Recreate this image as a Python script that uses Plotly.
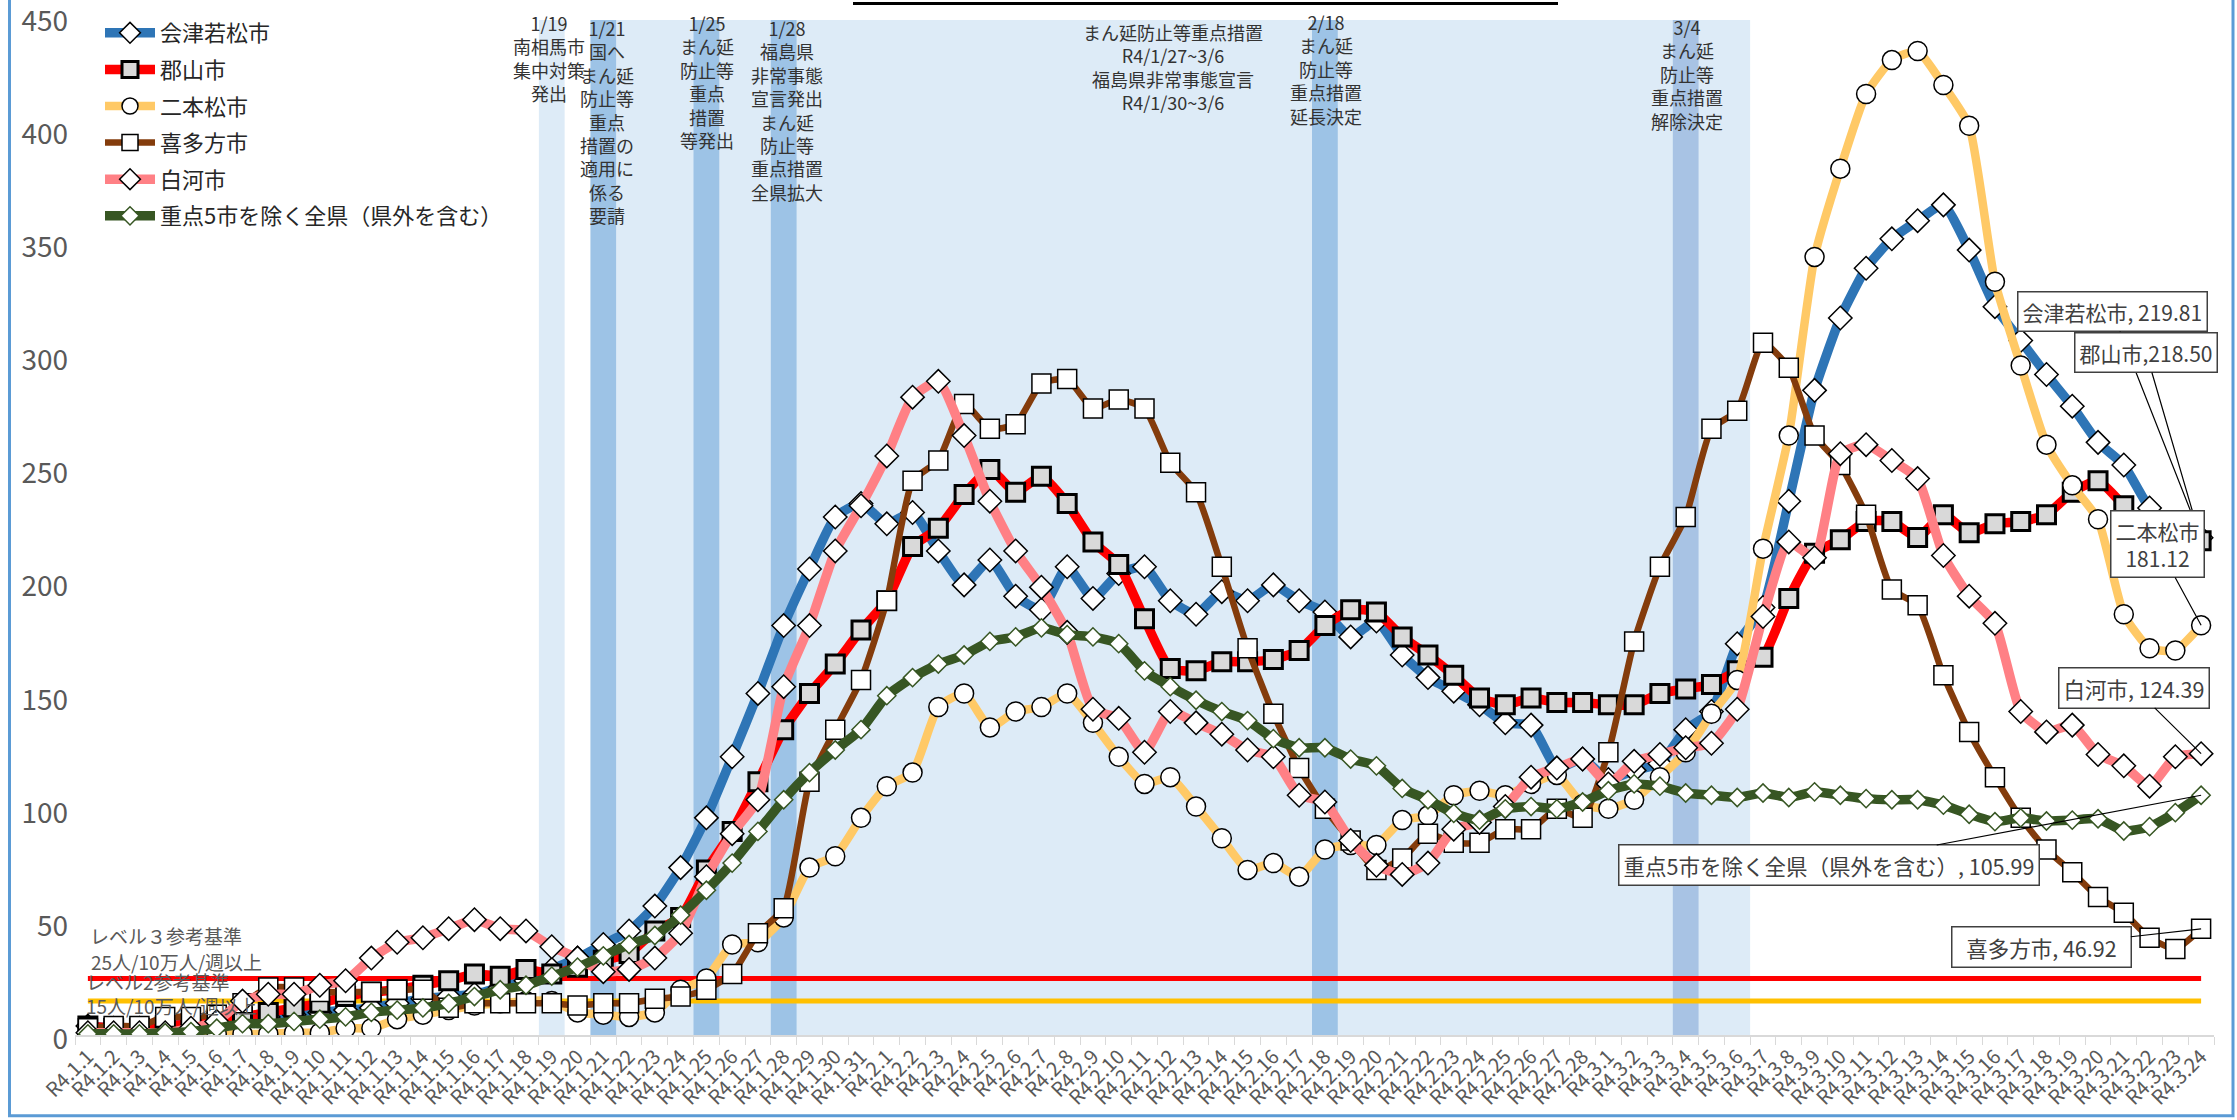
import plotly.graph_objects as go

# ---------------- data ----------------
months = [(1, 31), (2, 28), (3, 24)]
dates = [f"R4.{m}.{d}" for m, n in months for d in range(1, n + 1)]

aizu = [4, 3, 3, 4, 5, 6, 7, 8, 9, 10, 11, 12, 14, 16, 17, 18, 21, 24, 29, 34,
        40, 46, 57, 74, 96, 123, 151, 181, 206, 229, 235,
        226, 231, 214, 199, 210, 194, 188, 207, 193, 204, 207, 192, 186, 196, 192, 199, 192, 187,
        176, 183, 168, 158, 152, 146, 138, 137, 118, 122,
        113, 117, 120, 135, 143, 173, 189, 236, 285, 317, 339, 352, 360, 367, 347, 322, 307, 292,
        278, 262, 252, 233, 224, 219.81]

koriyama = [4, 3, 3, 4, 5, 7, 8, 10, 12, 14, 17, 19, 20, 22, 24, 27, 26, 29, 27, 30,
            33, 36, 46, 52, 73, 90, 112, 135, 151, 164, 179,
            192, 216, 224, 239, 250, 240, 247, 235, 218, 208, 184, 162, 161, 165, 165, 166, 170, 181,
            188, 187, 176, 168, 159, 149, 146, 149, 147, 147,
            146, 146, 151, 153, 155, 161, 167, 193, 213, 219, 227, 227, 220, 230, 222, 226, 227, 230,
            240, 245, 234, 221, 216, 218.50]

nihonmatsu = [1, 1, 1, 0.5, 0.5, 0.5, 0.5, 0.5, 1, 1, 3, 3, 7, 9, 11, 13, 14, 15, 15, 10,
              9, 8, 10, 20, 25, 40, 41, 52, 74, 79, 96,
              110, 116, 145, 151, 136, 143, 145, 151, 138, 123, 111, 114, 101, 87, 73, 76, 70, 82,
              84, 84, 95, 97, 106, 108, 106, 111, 115, 102,
              100, 104, 114, 125, 142, 157, 215, 265, 344, 383, 416, 431, 435, 420, 402, 333, 296, 261,
              243, 228, 186, 171, 170, 181.12]

kitakata = [3, 4, 4, 8, 8, 9, 14, 21, 21, 19, 19, 19, 20, 20, 12, 14, 14, 14, 14, 13,
            14, 14, 16, 17, 20, 27, 45, 56, 112, 135, 157,
            192, 245, 254, 279, 268, 270, 288, 290, 277, 281, 277, 253, 240, 207, 171, 142, 118, 100,
            86, 73, 78, 89, 85, 85, 91, 91, 100, 96,
            125, 174, 207, 229, 268, 276, 306, 295, 265, 252, 230, 197, 190, 159, 134, 114, 96, 82,
            72, 61, 54, 43, 38, 46.92]

shirakawa = [1, 1, 1, 1, 3, 6, 15, 18, 18, 22, 24, 34, 41, 43, 47, 51, 47, 46, 39, 34,
             28, 29, 34, 45, 70, 89, 104, 154, 181, 214, 234,
             256, 282, 289, 265, 236, 214, 198, 178, 144, 140, 125, 143, 138, 133, 126, 123, 106, 103,
             86, 75, 71, 76, 91, 94, 101, 114, 118, 122,
             111, 121, 124, 127, 129, 144, 185, 218, 211, 257, 261, 254, 246, 212, 194, 182, 143, 134,
             137, 124, 119, 110, 123, 124.39]

zenken = [0.5, 0.5, 0.5, 1, 1.5, 3, 5, 5, 6, 7, 8, 10, 11, 12, 14, 17, 20, 22, 26, 30,
          35, 40, 44, 53, 64, 76, 90, 104, 116, 126, 135,
          150, 158, 164, 168, 174, 176, 180, 177, 176, 173, 161, 154, 148, 143, 139, 131, 127, 127,
          122, 119, 109, 104, 98, 95, 100, 101, 100, 103,
          108, 111, 110, 107, 106, 105, 107, 105, 107.5, 106, 104.5, 104, 104, 101.6, 97.6, 94.3, 96,
          94.6, 95, 95.6, 90.2, 92.1, 98.3, 105.99]

series_names = ["会津若松市", "郡山市", "二本松市", "喜多方市", "白河市", "重点5市を除く全県（県外を含む）"]
level3_value = 25
level2_value = 15
y_ticks = [0, 50, 100, 150, 200, 250, 300, 350, 400, 450]

# event bands (dates)
light_single = ["R4.1.19"]
light_range = ("R4.1.22", "R4.3.6")
dark_events = ["R4.1.21", "R4.1.25", "R4.1.28", "R4.2.18"]
dark2_events = ["R4.3.4"]

event_notes = [
    ("R4.1.19", "1/19<br>南相馬市<br>集中対策<br>発出"),
    ("R4.1.21", "1/21<br>国へ<br>まん延<br>防止等<br>重点<br>措置の<br>適用に<br>係る<br>要請"),
    ("R4.1.25", "1/25<br>まん延<br>防止等<br>重点<br>措置<br>等発出"),
    ("R4.1.28", "1/28<br>福島県<br>非常事態<br>宣言発出<br>まん延<br>防止等<br>重点措置<br>全県拡大"),
    ("R4.2.12", "まん延防止等重点措置<br>R4/1/27~3/6<br>福島県非常事態宣言<br>R4/1/30~3/6"),
    ("R4.2.18", "2/18<br>まん延<br>防止等<br>重点措置<br>延長決定"),
    ("R4.3.4", "3/4<br>まん延<br>防止等<br>重点措置<br>解除決定"),
]

# ---------------- layout constants ----------------
FONT = "Noto Sans CJK JP"
W, H = 2237, 1120
ML, MR, MT, MB = 75, 23, 14, 85
PW = W - ML - MR
PH = H - MT - MB


def px_to_paper_x(px):
    return (px - ML) / PW


def px_to_paper_y(py):
    return (H - MB - py) / PH


idx = {d: i for i, d in enumerate(dates)}

fig = go.Figure()

# bands
shapes = []
LIGHT = "#DDEBF7"
DARK = "#9DC3E6"
DARK2 = "#A8C3E4"
BAND_TOP = 0.996
for d in light_single:
    shapes.append(dict(type="rect", xref="x", yref="paper", x0=idx[d] - 0.5, x1=idx[d] + 0.5,
                       y0=0, y1=BAND_TOP, fillcolor=LIGHT, line_width=0, layer="below"))
shapes.append(dict(type="rect", xref="x", yref="paper", x0=idx[light_range[0]] - 0.5,
                   x1=idx[light_range[1]] + 0.5, y0=0, y1=BAND_TOP, fillcolor=LIGHT, line_width=0,
                   layer="below"))
for d in dark_events:
    shapes.append(dict(type="rect", xref="x", yref="paper", x0=idx[d] - 0.5, x1=idx[d] + 0.5,
                       y0=0, y1=BAND_TOP, fillcolor=DARK, line_width=0, layer="below"))
for d in dark2_events:
    shapes.append(dict(type="rect", xref="x", yref="paper", x0=idx[d] - 0.5, x1=idx[d] + 0.5,
                       y0=0, y1=BAND_TOP, fillcolor=DARK2, line_width=0, layer="below"))

# outer border and top title rule
shapes.append(dict(type="rect", xref="paper", yref="paper",
                   x0=px_to_paper_x(9.5), x1=px_to_paper_x(2233),
                   y0=px_to_paper_y(1116), y1=px_to_paper_y(-10),
                   line=dict(color="#5B9BD5", width=3), fillcolor="rgba(0,0,0,0)", layer="above"))
shapes.append(dict(type="line", xref="paper", yref="paper",
                   x0=px_to_paper_x(853), x1=px_to_paper_x(1558),
                   y0=px_to_paper_y(1.5), y1=px_to_paper_y(1.5),
                   line=dict(color="black", width=3)))

# level lines
fig.add_trace(go.Scatter(x=dates, y=[level3_value] * len(dates), mode="lines",
                         line=dict(color="#FF0000", width=5), showlegend=False, hoverinfo="skip"))
fig.add_trace(go.Scatter(x=dates, y=[level2_value] * len(dates), mode="lines",
                         line=dict(color="#FFC000", width=5), showlegend=False, hoverinfo="skip"))

styles = [
    (aizu, "#2E75B6", 9.5, "diamond", "white", "black", 1.5, 18),
    (koriyama, "#FF0000", 9.5, "square", "#D9D9D9", "black", 3, 18),
    (nihonmatsu, "#FFC966", 8.5, "circle", "white", "black", 1.5, 19),
    (kitakata, "#843C0C", 6.5, "square", "white", "black", 1.5, 19),
    (shirakawa, "#FF8085", 9.5, "diamond", "white", "black", 1.5, 18),
    (zenken, "#375623", 9.5, "diamond", "white", "#375623", 1.5, 14),
]
for k, (name, (vals, col, lw, sym, fill, mline, mlw, msz)) in enumerate(zip(series_names, styles)):
    fig.add_trace(go.Scatter(
        x=dates, y=vals, name=name, mode="lines+markers", legendgroup=f"g{k}",
        line=dict(color=col, width=lw, shape="spline", smoothing=0.5),
        marker=dict(symbol=sym, size=msz, color=fill, line=dict(color=mline, width=mlw)),
    ))

annotations = []
# event notes
note_tops = {"R4.1.19": 6, "R4.1.21": 11, "R4.1.25": 6, "R4.1.28": 11,
             "R4.2.12": 15, "R4.2.18": 5, "R4.3.4": 10}
note_shift = {"R4.1.19": -3, "R4.1.21": 4, "R4.1.25": 1, "R4.1.28": 3,
              "R4.2.12": 3, "R4.2.18": 1, "R4.3.4": 1}
for d, txt in event_notes:
    annotations.append(dict(x=d, y=px_to_paper_y(note_tops[d]), xref="x", yref="paper",
                            yanchor="top", xanchor="center", text=txt, showarrow=False,
                            xshift=note_shift[d],
                            font=dict(family=FONT, size=18, color="#333333"), align="center"))

# level texts
level_texts = [("レベル３参考基準", 935, 88), ("25人/10万人/週以上", 961, 89),
               ("レベル2参考基準", 981, 84), ("15人/10万人/週以上", 1005, 84)]
for txt, py, pxx in level_texts:
    annotations.append(dict(x=px_to_paper_x(pxx), y=px_to_paper_y(py), xref="paper", yref="paper",
                            xanchor="left", yanchor="middle", text=txt, showarrow=False,
                            font=dict(family=FONT, size=19, color="#595959")))

# callouts for final values
callouts = [
    (aizu, "会津若松市, 219.81", -89, -226, 21),
    (koriyama, "郡山市,218.50", -55, -188, 21),
    (nihonmatsu, "二本松市<br>181.12", -44, -81, 21),
    (shirakawa, "白河市, 124.39", -67, -66, 21.5),
    (zenken, "重点5市を除く全県（県外を含む）, 105.99", -372, 70, 21.5),
    (kitakata, "&nbsp;&nbsp;喜多方市, 46.92&nbsp;&nbsp;", -160, 18, 21.5),
]
for vals, txt, ax, ay, fs in callouts:
    annotations.append(dict(x=dates[-1], y=vals[-1], xref="x", yref="y", text=txt,
                            showarrow=True, arrowhead=0, arrowwidth=1.2, arrowcolor="black",
                            ax=ax, ay=ay, bgcolor="white", bordercolor="#404040", borderwidth=1.5,
                            borderpad=4, font=dict(family=FONT, size=fs, color="#404040"),
                            align="center"))

fig.update_layout(
    width=W, height=H,
    margin=dict(l=ML, r=MR, t=MT, b=MB),
    paper_bgcolor="white", plot_bgcolor="white",
    font=dict(family=FONT, color="#404040"),
    shapes=shapes, annotations=annotations,
    showlegend=True,
    legend=dict(x=px_to_paper_x(100), y=px_to_paper_y(10), xanchor="left", yanchor="top",
                bgcolor="rgba(0,0,0,0)", font=dict(family=FONT, size=22, color="#262626"),
                itemwidth=50, tracegroupgap=5),
    xaxis=dict(type="category", categoryorder="array", categoryarray=dates,
               range=[-0.5, len(dates) - 0.5], tickangle=-45,
               tickfont=dict(family=FONT, size=20, color="#595959"),
               ticks="outside", ticklen=8, tickcolor="#D9D9D9", tickson="boundaries",
               showline=True, linecolor="#D9D9D9", linewidth=2, showgrid=False,
               automargin=False),
    yaxis=dict(range=[0, 450.5], tickmode="array", tickvals=y_ticks,
               tickfont=dict(family=FONT, size=28, color="#595959"),
               showgrid=False, zeroline=False, showline=False, automargin=False,
               ticklabelstandoff=6, ticklabelshift=4, ticklabeloverflow="allow"),
)

fig.write_html("out.html", config={"displayModeBar": False},
               post_script="document.body.style.margin='0px';document.body.style.overflow='hidden';")
